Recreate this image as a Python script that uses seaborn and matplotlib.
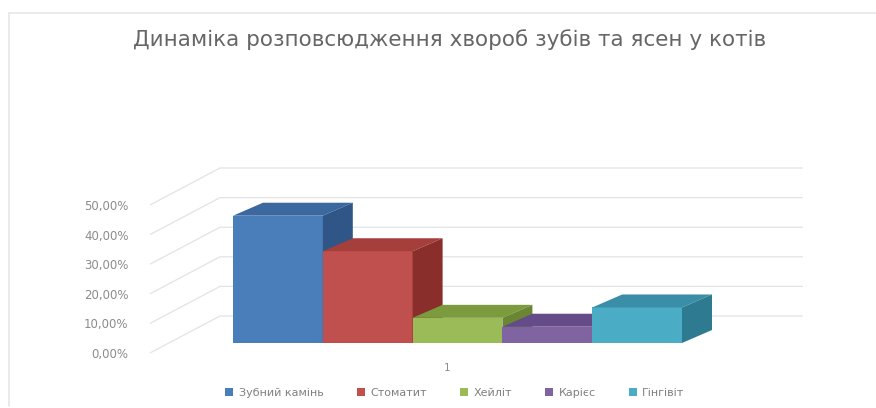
import matplotlib
matplotlib.use("Agg")
import matplotlib.pyplot as plt
import matplotlib.transforms as mtransforms
from matplotlib.patches import Polygon, Patch
from matplotlib.lines import Line2D
from matplotlib.ticker import FuncFormatter
import seaborn as sns
import pandas as pd

# ---- data ----
title = "Динаміка розповсюдження хвороб зубів та ясен у котів"
categories = ["Зубний камінь", "Стоматит", "Хейліт", "Карієс", "Гінгівіт"]
values = [0.43, 0.31, 0.085, 0.055, 0.12]
group_label = "1"
y_ticks = [0.0, 0.1, 0.2, 0.3, 0.4, 0.5]

front_colors = ["#4A7EBB", "#C0504D", "#9BBB59", "#8064A2", "#4BACC6"]
top_colors = ["#3C68A0", "#A43F3C", "#7C9B3E", "#654C88", "#3A8EA8"]
side_colors = ["#2F5686", "#8A2E2C", "#6A8633", "#553E74", "#2E7A90"]

sns.set_theme(style="white")
plt.rcParams["font.family"] = ["DejaVu Sans"]

W, H, DPI = 876, 408, 100
fig = plt.figure(figsize=(W / DPI, H / DPI), dpi=DPI)

# layout in pixels
ax_left_px, ax_right_px = 148, 805
y0_from_top = 343            # baseline of bar fronts
py_per_unit = 296.0          # pixels per 1.0 (100 %)
bar_group_width = 0.8
px_per_xunit = 449 / bar_group_width
x_center_px = 457.5
ylim = (-0.04, 0.62)

ax_bottom_px = (H - y0_from_top) + ylim[0] * py_per_unit
ax_height_px = (ylim[1] - ylim[0]) * py_per_unit
ax = fig.add_axes([ax_left_px / W, ax_bottom_px / H,
                   (ax_right_px - ax_left_px) / W, ax_height_px / H])

df = pd.DataFrame({"group": [group_label] * len(categories),
                   "disease": categories, "value": values})
sns.barplot(data=df, x="group", y="value", hue="disease",
            hue_order=categories, palette=front_colors, width=bar_group_width,
            saturation=1, ax=ax, legend=False, linewidth=0, errorbar=None)

def px2x(px):
    return (px - x_center_px) / px_per_xunit

ax.set_xlim(px2x(ax_left_px), px2x(ax_right_px))
ax.set_ylim(*ylim)

# depth offsets (data units)
ddx = 30 / px_per_xunit
ddy = 13 / py_per_unit

bars = sorted(ax.patches, key=lambda p: p.get_x())
for i, p in enumerate(bars):
    x0 = p.get_x()
    x1 = x0 + p.get_width()
    h = p.get_height()
    z = 3 + i
    p.set_zorder(z)
    top = Polygon([(x0, h), (x1, h), (x1 + ddx, h + ddy), (x0 + ddx, h + ddy)],
                  closed=True, facecolor=top_colors[i], edgecolor="none", zorder=z)
    side = Polygon([(x1, 0), (x1 + ddx, ddy), (x1 + ddx, h + ddy), (x1, h)],
                   closed=True, facecolor=side_colors[i], edgecolor="none", zorder=z)
    ax.add_patch(top)
    ax.add_patch(side)

# 3D-like gridlines: floor diagonal then back wall
front_off = 10 / py_per_unit
back_off = 27 / py_per_unit
for v in y_ticks:
    ax.plot([px2x(150), px2x(220), px2x(803)],
            [v - front_off, v + back_off, v + back_off],
            color="#E3E3E3", lw=0.9, zorder=1, solid_capstyle="butt")

for s in ax.spines.values():
    s.set_visible(False)
ax.set_xlabel("")
ax.set_ylabel("")
ax.set_yticks(y_ticks)
ax.yaxis.set_major_formatter(FuncFormatter(lambda v, _: f"{v*100:.2f}%".replace(".", ",")))
ax.tick_params(axis="y", length=0, pad=14, labelsize=8.5, labelcolor="#8C8C8C")
ax.tick_params(axis="x", length=0, pad=6, labelsize=7.5, labelcolor="#8C8C8C")
shift_y = mtransforms.ScaledTranslation(0, -10 / DPI, fig.dpi_scale_trans)
for lab in ax.get_yticklabels():
    lab.set_transform(lab.get_transform() + shift_y)
shift_x = mtransforms.ScaledTranslation(-10 / DPI, 0, fig.dpi_scale_trans)
for lab in ax.get_xticklabels():
    lab.set_transform(lab.get_transform() + shift_x)

fig.text(450 / W, 1 - 40 / H, title, ha="center", va="center",
         fontsize=15.5, color="#666666")

handles = [Patch(facecolor=c, edgecolor="none") for c in front_colors]
fig.legend(handles, categories, loc="center", bbox_to_anchor=(455 / W, 1 - 393 / H),
           ncol=5, frameon=False, fontsize=8, labelcolor="#808080",
           handlelength=0.7, handleheight=0.7, handletextpad=0.5, columnspacing=3.0)

# chart border
fig.add_artist(Line2D([9 / W, 9 / W], [1 - 406 / H, 1 - 13 / H], color="#E6E6E6", lw=1.2))
fig.add_artist(Line2D([9 / W, 1], [1 - 13 / H, 1 - 13 / H], color="#E6E6E6", lw=1.2))

fig.savefig("out.png", dpi=DPI, facecolor="white")
